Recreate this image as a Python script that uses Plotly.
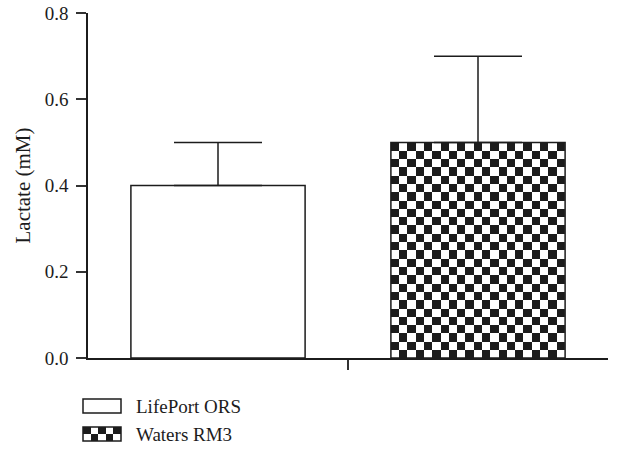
import numpy as np
import plotly.graph_objects as go

# Lactate concentration by perfusion solution
categories = ["LifePort ORS", "Waters RM3"]
lactate_mean = [0.4, 0.5]
lactate_err = [0.1, 0.2]
y_ticks = [0.0, 0.2, 0.4, 0.6, 0.8]

# styling
W, H = 624, 470
FONT = "Liberation Serif"
INK = "#1c1c1c"
BAR_WIDTH = 0.67
CHECK_COLS, CHECK_ROWS = 21, 26      # checker squares across / down the Waters RM3 bar
SWATCH_COLS, SWATCH_ROWS = 5, 2      # checker squares in its legend swatch

# plot area in pixels (left, right, top, bottom)
PL, PR, PT, PB = 88, 608, 13, 358


def px_x(x):
    return x / W


def px_y(y):
    return 1 - y / H


def checker(n_rows, n_cols):
    # row 0 is the bottom row; the top-left square is dark
    return [[((n_rows - 1 - i) + j) % 2 for j in range(n_cols)] for i in range(n_rows)]


xpos = list(range(len(categories)))
fig = go.Figure()

# checker fill of the second bar, laid on the bar's own extent
cx = xpos[1]
x_edges = np.linspace(cx - BAR_WIDTH / 2, cx + BAR_WIDTH / 2, CHECK_COLS + 1)
y_edges = np.linspace(0, lactate_mean[1], CHECK_ROWS + 1)
fig.add_trace(go.Heatmap(
    x=x_edges, y=y_edges, z=checker(CHECK_ROWS, CHECK_COLS),
    colorscale=[[0, INK], [1, "white"]], zmin=0, zmax=1,
    showscale=False, zsmooth=False, hoverinfo="skip",
))

# bars with upper error bars
fig.add_trace(go.Bar(
    x=xpos, y=lactate_mean, width=BAR_WIDTH,
    marker=dict(color=["white", "rgba(0,0,0,0)"], line=dict(color=INK, width=1.5)),
    error_y=dict(type="data", array=lactate_err, arrayminus=[0] * len(lactate_err),
                 symmetric=False, width=44, thickness=1.5, color=INK),
    hoverinfo="skip", showlegend=False,
))

# legend swatch for the checker fill
fig.add_trace(go.Heatmap(
    z=checker(SWATCH_ROWS, SWATCH_COLS),
    colorscale=[[0, INK], [1, "white"]], zmin=0, zmax=1,
    showscale=False, zsmooth=False, hoverinfo="skip",
    xaxis="x2", yaxis="y2",
))

axis_line = dict(showline=True, linecolor=INK, linewidth=1.5, showgrid=False,
                 zeroline=False, ticks="outside", ticklen=10, tickwidth=1.5,
                 tickcolor="#333", automargin=False, fixedrange=True)

fig.update_layout(
    width=W, height=H,
    margin=dict(l=0, r=0, t=0, b=0, pad=0, autoexpand=False),
    paper_bgcolor="white", plot_bgcolor="white",
    font=dict(family=FONT, color=INK, size=19),
    showlegend=False,
    xaxis=dict(domain=[px_x(PL), px_x(PR)], range=[-0.5, 1.5],
               tickvals=[0.5], showticklabels=False, **axis_line),
    yaxis=dict(domain=[px_y(PB), px_y(PT)], range=[0, 0.8],
               tickvals=y_ticks, tickformat=".1f", ticklabelstandoff=4,
               title=dict(text="Lactate (mM)", font=dict(size=21), standoff=8),
               **axis_line),
    xaxis2=dict(domain=[px_x(83), px_x(121)], visible=False, fixedrange=True,
                automargin=False, range=[-0.5, SWATCH_COLS - 0.5]),
    yaxis2=dict(domain=[px_y(441), px_y(427)], visible=False, fixedrange=True,
                automargin=False, range=[-0.5, SWATCH_ROWS - 0.5]),
)

# legend boxes and labels
box_rows = [(399, 413), (427, 441)]
fills = ["white", "rgba(0,0,0,0)"]
for (top, bottom), fill, name in zip(box_rows, fills, categories):
    fig.add_shape(type="rect", xref="paper", yref="paper", layer="above",
                  x0=px_x(83), x1=px_x(121), y0=px_y(bottom), y1=px_y(top),
                  fillcolor=fill, line=dict(color=INK, width=1.5))
    fig.add_annotation(x=px_x(134), y=px_y((top + bottom) / 2), xref="paper", yref="paper",
                       text=name, showarrow=False, xanchor="left", yanchor="middle",
                       font=dict(family=FONT, size=19, color=INK))

fig.write_html("out.html", config={"displayModeBar": False})
